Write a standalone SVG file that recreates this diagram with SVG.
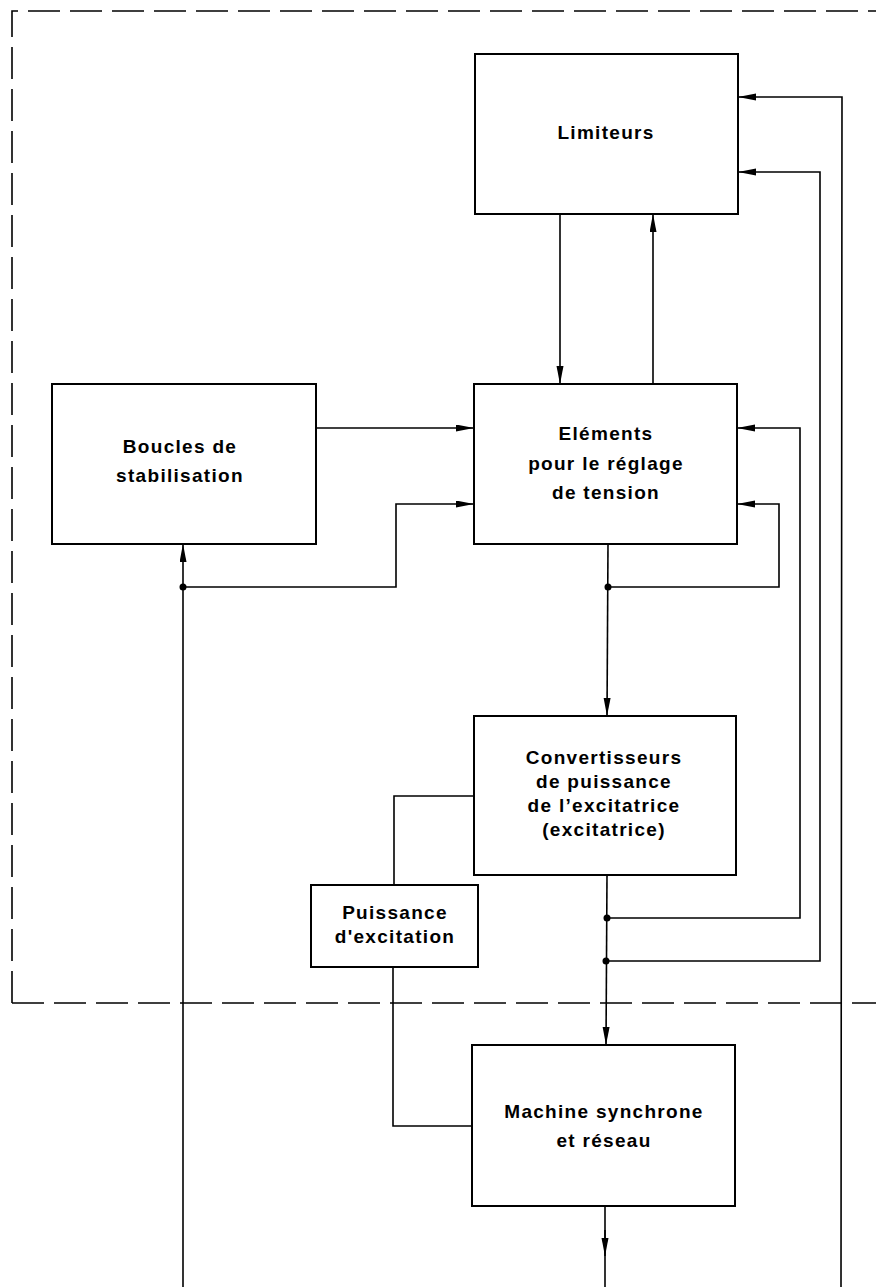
<svg xmlns="http://www.w3.org/2000/svg" width="876" height="1287" viewBox="0 0 876 1287">
<style>
.box{fill:#fff;stroke:#000;stroke-width:2}
.ln{fill:none;stroke:#000;stroke-width:1.6}
.dash{fill:none;stroke:#000;stroke-width:1.6;stroke-dasharray:32 10}
.t{font-family:"Liberation Sans",Arial,sans-serif;font-weight:bold;font-size:19px;letter-spacing:1.3px;text-anchor:middle;fill:#000}
</style>
<defs>
<marker id="ah" markerUnits="userSpaceOnUse" markerWidth="18" markerHeight="8" refX="18" refY="3.5" orient="auto">
<path d="M0,0 L18,3.5 L0,7 z" fill="#000"/>
</marker>
</defs>
<g id="frame">
<path class="dash" d="M12,1003 L12,11 L876,11"/>
<path class="dash" d="M12,1003 L876,1003"/>
</g>
<g id="connectors">
<path class="ln" d="M560,214 L560,384" marker-end="url(#ah)"/>
<path class="ln" d="M653,384 L653,214" marker-end="url(#ah)"/>
<path class="ln" d="M316,428 L474,428" marker-end="url(#ah)"/>
<path class="ln" d="M183,587 L396,587 L396,504 L474,504" marker-end="url(#ah)"/>
<path class="ln" d="M183,1287 L183,544" marker-end="url(#ah)"/>
<path class="ln" d="M608,544 L607,716" marker-end="url(#ah)"/>
<path class="ln" d="M608,587 L779,587 L779,504 L737,504" marker-end="url(#ah)"/>
<path class="ln" d="M607,875 L606,1045" marker-end="url(#ah)"/>
<path class="ln" d="M607,918 L800,918 L800,428 L737,428" marker-end="url(#ah)"/>
<path class="ln" d="M606,961 L820,961 L820,172 L738,172" marker-end="url(#ah)"/>
<path class="ln" d="M841,1287 L842,97 L738,97" marker-end="url(#ah)"/>
<path class="ln" d="M605,1206 L605,1287"/>
<path class="ln" d="M605,1230 L605,1256" marker-end="url(#ah)"/>
<path class="ln" d="M474,796 L394,796 L394,885"/>
<path class="ln" d="M393,967 L393,1126 L472,1126"/>
<circle cx="183" cy="587" r="3.5"/>
<circle cx="608" cy="587" r="3.5"/>
<circle cx="607" cy="918" r="3.5"/>
<circle cx="606" cy="961" r="3.5"/>
</g>
<g id="limiteurs">
<rect class="box" x="475" y="54" width="263" height="160"/>
<text class="t" x="606" y="139">Limiteurs</text>
</g>
<g id="elements">
<rect class="box" x="474" y="384" width="263" height="160"/>
<text class="t" x="606" y="440">Eléments</text>
<text class="t" x="606" y="470">pour le réglage</text>
<text class="t" x="606" y="499">de tension</text>
</g>
<g id="boucles">
<rect class="box" x="52" y="384" width="264" height="160"/>
<text class="t" x="180" y="453">Boucles de</text>
<text class="t" x="180" y="482">stabilisation</text>
</g>
<g id="convertisseurs">
<rect class="box" x="474" y="716" width="262" height="159"/>
<text class="t" x="604" y="764">Convertisseurs</text>
<text class="t" x="604" y="788">de puissance</text>
<text class="t" x="604" y="812">de l’excitatrice</text>
<text class="t" x="604" y="836">(excitatrice)</text>
</g>
<g id="puissance">
<rect class="box" x="311" y="885" width="167" height="82"/>
<text class="t" x="395" y="919">Puissance</text>
<text class="t" x="395" y="943">d'excitation</text>
</g>
<g id="machine">
<rect class="box" x="472" y="1045" width="263" height="161"/>
<text class="t" x="604" y="1118">Machine synchrone</text>
<text class="t" x="604" y="1147">et réseau</text>
</g>
</svg>
